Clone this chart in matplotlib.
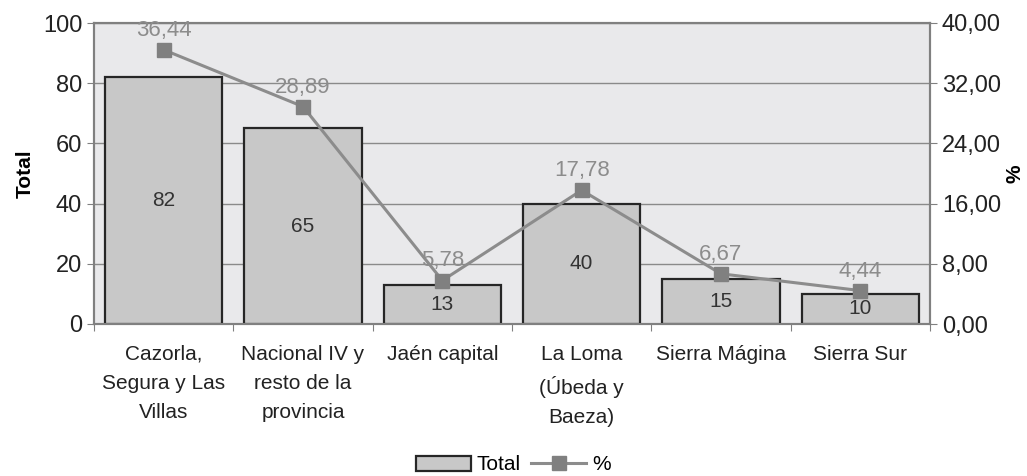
import numpy as np
import matplotlib
matplotlib.use("Agg")
import matplotlib.pyplot as plt
from matplotlib.patches import Patch
from matplotlib.lines import Line2D

plt.rcParams['font.family'] = ['Liberation Sans', 'DejaVu Sans']

categories = ["Cazorla,\nSegura y Las\nVillas", "Nacional IV y\nresto de la\nprovincia",
              "Jaén capital", "La Loma\n(Úbeda y\nBaeza)", "Sierra Mágina", "Sierra Sur"]
totals = [82, 65, 13, 40, 15, 10]
percents = [36.44, 28.89, 5.78, 17.78, 6.67, 4.44]

fmt = lambda v: f"{v:.2f}".replace(".", ",")

fig = plt.figure(figsize=(10.27, 4.76), dpi=100)
ax = fig.add_axes([94 / 1027, 1 - 324 / 476, 836 / 1027, 301 / 476])
ax.set_facecolor("#e9e9eb")

x = np.arange(len(categories))
bars = ax.bar(x, totals, width=0.84, color="#c8c8c8", edgecolor="#262626",
              linewidth=1.6, zorder=3)
for b, v in zip(bars, totals):
    ax.text(b.get_x() + b.get_width() / 2, v / 2, str(v), ha="center", va="center",
            fontsize=15, color="#333333", zorder=5)

ax.set_xlim(-0.5, len(categories) - 0.5)
ax.set_ylim(0, 100)
ax.set_yticks(range(0, 101, 20))
ax.set_xticks(np.arange(-0.5, len(categories), 1), minor=False)
ax.set_xticklabels([])
ax.set_xticks(x, minor=True)
ax.set_xticklabels(categories, minor=True, fontsize=15, color="#222222",
                   linespacing=1.68)
ax.tick_params(axis="x", which="minor", length=0, pad=15)
ax.tick_params(axis="x", which="major", length=5, color="#808080")
ax.tick_params(axis="y", length=5, color="#808080", labelsize=17, labelcolor="#222222")
ax.grid(axis="y", color="#8a8a8a", linewidth=1.0, zorder=1)
for s in ax.spines.values():
    s.set_color("#808080")
    s.set_linewidth(1.5)
ax.set_ylabel("Total", fontsize=15, fontweight="bold", labelpad=6)

ax2 = ax.twinx()
ax2.set_ylim(0, 40)
ax2.set_yticks(np.arange(0, 40.1, 8))
ax2.set_yticklabels([fmt(v) for v in np.arange(0, 40.1, 8)])
ax2.tick_params(axis="y", length=5, color="#808080", labelsize=17, labelcolor="#222222")
for s in ax2.spines.values():
    s.set_color("#808080")
    s.set_linewidth(1.5)
ax2.plot(x, percents, color="#8c8c8c", linewidth=2.2, marker="s", markersize=10,
         markerfacecolor="#808080", markeredgecolor="#808080", zorder=4)
for xi, p in zip(x, percents):
    ax2.text(xi, p + 1.2, fmt(p), ha="center", va="bottom", fontsize=16, color="#8c8c8c")
ax2.set_ylabel("%", fontsize=15, fontweight="bold", labelpad=3)

handles = [Patch(facecolor="#c8c8c8", edgecolor="#262626", linewidth=1.6),
           Line2D([0], [0], color="#8c8c8c", linewidth=2.2, marker="s", markersize=10,
                  markerfacecolor="#808080", markeredgecolor="#808080")]
fig.legend(handles, ["Total", "%"], loc="center", bbox_to_anchor=(0.5, 1 - 465 / 476),
           ncol=2, frameon=False, fontsize=15, handlelength=2.6, columnspacing=0.5,
           handletextpad=0.3)

fig.savefig("out.png", dpi=100)
